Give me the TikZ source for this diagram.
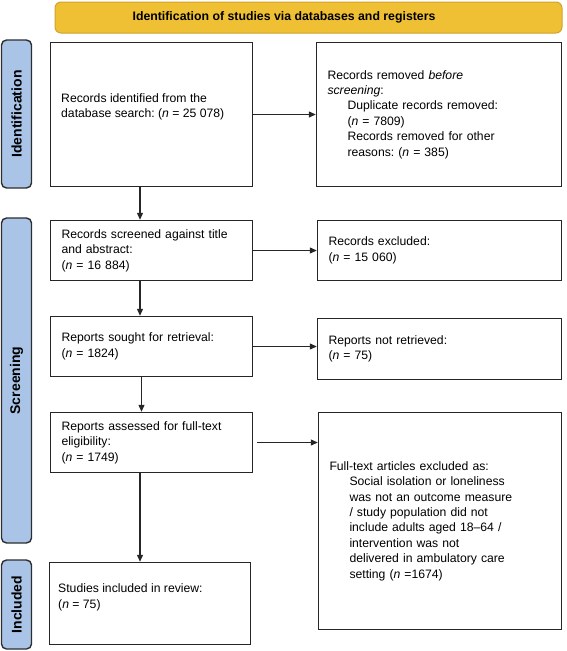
\documentclass[tikz,border=0pt]{standalone}
\usepackage{fontspec}
\setmainfont{Liberation Sans}
\usetikzlibrary{arrows.meta,calc}
\definecolor{hdrfill}{HTML}{EFC033}
\definecolor{hdrdraw}{HTML}{D2A22A}
\definecolor{sidefill}{HTML}{A9C4E7}
\definecolor{sidedraw}{HTML}{2E2E2E}
\definecolor{boxdraw}{HTML}{262626}
\newcommand{\ind}{\hspace*{20pt}}
\frenchspacing
\begin{document}
\frenchspacing
\begin{tikzpicture}[x=1pt,y=-1pt,
  box/.style={draw=boxdraw,line width=1.4pt,fill=white,inner xsep=11pt,inner ysep=0pt,
    align=left,font=\fontsize{12.2}{15.4}\selectfont},
  txt/.style={inner sep=0pt,align=left,anchor=west,font=\fontsize{12.2}{15.4}\selectfont},
  side/.style={draw=sidedraw,line width=1.4pt,fill=sidefill,rounded corners=5pt,
    minimum width=30pt,inner sep=0pt,font=\fontsize{14}{16}\selectfont\bfseries},
  hdr/.style={draw=hdrdraw,line width=1pt,fill=hdrfill,rounded corners=6pt,inner sep=0pt},
  hdrtxt/.style={inner sep=0pt,font=\fontsize{12.3}{14}\selectfont\bfseries},
  arr/.style={draw=boxdraw,line width=1.1pt,-{Triangle[length=7pt,width=6pt]}}]
\useasboundingbox (0,0) rectangle (567,651);
% header
\node[hdr,minimum width=507pt,minimum height=31pt] (hd) at (308.5,17.5) {};
\node[hdrtxt] (hdt) at (284,17.5) {Identification of studies via databases and registers};
% side labels
\node[side,minimum height=148pt] (sid) at (16.5,114) {\rotatebox{90}{Identification}};
\node[side,minimum height=325pt] (sscr) at (16.5,380.5) {\rotatebox{90}{Screening}};
\node[side,minimum height=89pt] (sinc) at (16.5,604.5) {\rotatebox{90}{Included}};
% boxes
\node[box,minimum width=202pt,minimum height=144pt] (b1) at (151.5,114.5) {};
\node[txt] (b1t) at (61,107) {Records identified from the\\database search: (\textit{n} = 25 078)};
\node[box,minimum width=245pt,minimum height=144pt,text width=223pt] (b2) at (439,114.5)
  {Records removed \textit{before}\\\textit{screening}:\\\ind Duplicate records removed:\\\ind(\textit{n} = 7809)\\\ind Records removed for other\\\ind reasons: (\textit{n} = 385)};
\node[box,minimum width=202pt,minimum height=60pt,text width=180pt] (b3) at (151.5,250.5)
  {Records screened against title\\and abstract:\\(\textit{n} = 16 884)};
\node[box,minimum width=244pt,minimum height=60pt,text width=222pt] (b4) at (439.5,250.5)
  {Records excluded:\\(\textit{n} = 15 060)};
\node[box,minimum width=202pt,minimum height=60pt,text width=180pt] (b5) at (151.5,346.5)
  {Reports sought for retrieval:\\(\textit{n} = 1824)};
\node[box,minimum width=244pt,minimum height=61pt,text width=222pt] (b6) at (439.5,349)
  {Reports not retrieved:\\(\textit{n} = 75)};
\node[box,minimum width=202pt,minimum height=60pt,text width=180pt] (b7) at (151.5,442.5)
  {Reports assessed for full-text\\eligibility:\\(\textit{n} = 1749)};
\node[box,minimum width=243pt,minimum height=217pt,text width=221pt] (b8) at (440,521)
  {Full-text articles excluded as:\\\ind Social isolation or loneliness\\\ind was not an outcome measure\\\ind / study population did not\\\ind include adults aged 18--64 /\\\ind intervention was not\\\ind delivered in ambulatory care\\\ind setting (\textit{n} =1674)};
\node[box,minimum width=201pt,minimum height=82pt] (b9) at (150,603.5) {};
\node[txt] (b9t) at (58,597.5) {Studies included in review:\\(\textit{n} = 75)};
% connectors
\draw[arr] (b1.east) -- (b1.east -| b2.west);
\draw[arr] (b3.east) -- (b3.east -| b4.west);
\draw[arr] (b5.east) -- (b5.east -| b6.west);
\draw[arr] ([xshift=4pt]b7.east) -- (b7.east -| b8.west);
\draw[arr] ([xshift=-11.5pt]b1.south) -- ([xshift=-11.5pt]b3.north);
\draw[arr] ([xshift=-11.5pt]b3.south) -- ([xshift=-11.5pt]b5.north);
\draw[arr] ([xshift=-10pt]b5.south) -- ([xshift=-10pt]b7.north);
\draw[arr] ([xshift=-11.5pt]b7.south) -- ([xshift=-10pt]b9.north);
\end{tikzpicture}
\end{document}
